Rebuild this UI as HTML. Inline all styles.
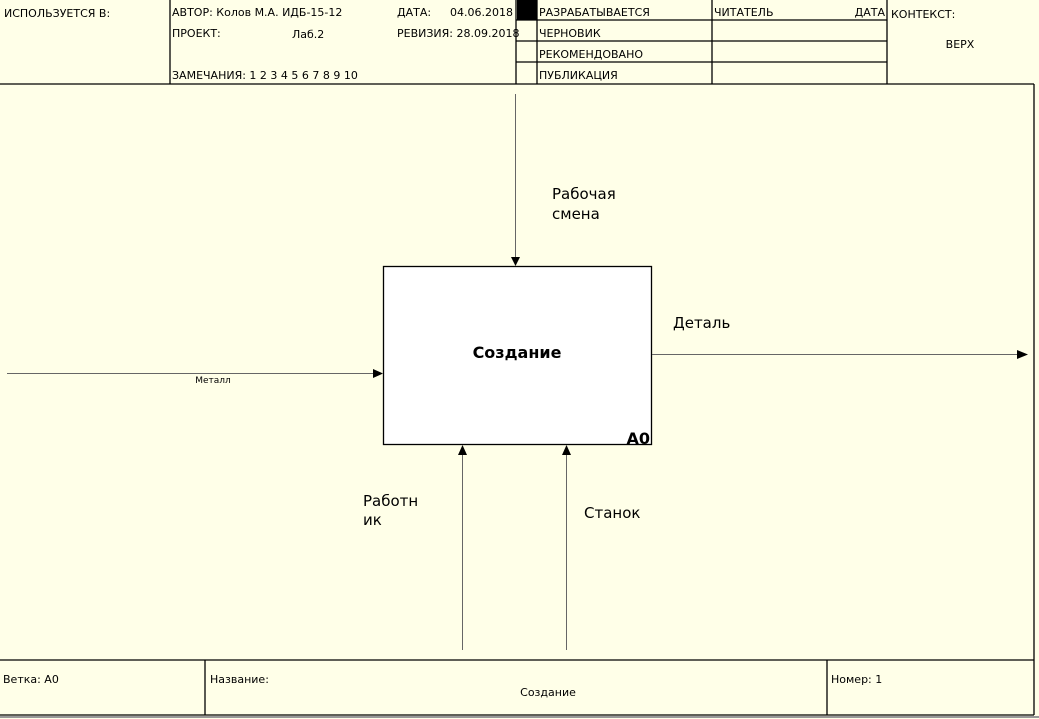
<!DOCTYPE html>
<html><head><meta charset="utf-8"><style>
html,body{margin:0;padding:0;background:#ffffe8;}
svg{display:block;}
text{font-family:"DejaVu Sans","Liberation Sans",sans-serif;fill:#000;}
</style></head><body>
<svg width="1039" height="719" viewBox="0 0 1039 719" xmlns="http://www.w3.org/2000/svg">
<rect x="0" y="0" width="1039" height="719" fill="#ffffe8"/>
<g stroke="#000" stroke-width="1.3" fill="none">
<line x1="0" y1="84" x2="1034" y2="84"/>
<line x1="170" y1="0" x2="170" y2="84"/>
<line x1="516" y1="0" x2="516" y2="84"/>
<line x1="537" y1="0" x2="537" y2="84"/>
<line x1="712" y1="0" x2="712" y2="84"/>
<line x1="887" y1="0" x2="887" y2="84"/>
<line x1="516" y1="20" x2="887" y2="20"/>
<line x1="516" y1="41" x2="887" y2="41"/>
<line x1="516" y1="62" x2="887" y2="62"/>
<line x1="1034" y1="84" x2="1034" y2="715"/>
<line x1="0" y1="660" x2="1034" y2="660"/>
<line x1="205" y1="660" x2="205" y2="715"/>
<line x1="827" y1="660" x2="827" y2="715"/>
<line x1="0" y1="715" x2="1034" y2="715"/>
</g>
<rect x="517" y="0" width="20" height="20" fill="#000"/>
<line x1="0" y1="717" x2="1039" y2="717" stroke="#999" stroke-width="2"/>
<g font-size="11">
<text x="4" y="17">ИСПОЛЬЗУЕТСЯ В:</text>
<text x="172" y="16">АВТОР: Колов М.А. ИДБ-15-12</text>
<text x="397" y="16">ДАТА:</text>
<text x="513" y="16" text-anchor="end">04.06.2018</text>
<text x="172" y="37">ПРОЕКТ:</text>
<text x="292" y="38">Лаб.2</text>
<text x="397" y="37">РЕВИЗИЯ: 28.09.2018</text>
<text x="172" y="79">ЗАМЕЧАНИЯ:  1  2  3  4  5  6  7  8  9  10</text>
<text x="539" y="16">РАЗРАБАТЫВАЕТСЯ</text>
<text x="539" y="37">ЧЕРНОВИК</text>
<text x="539" y="58">РЕКОМЕНДОВАНО</text>
<text x="539" y="79">ПУБЛИКАЦИЯ</text>
<text x="714" y="16">ЧИТАТЕЛЬ</text>
<text x="885" y="16" text-anchor="end">ДАТА</text>
<text x="891" y="18">КОНТЕКСТ:</text>
<text x="960" y="48" text-anchor="middle">ВЕРХ</text>
<text x="3" y="683">Ветка: A0</text>
<text x="210" y="683">Название:</text>
<text x="548" y="696" text-anchor="middle">Создание</text>
<text x="831" y="683">Номер: 1</text>
</g>
<rect x="383.5" y="266.5" width="268" height="178" fill="#fff" stroke="#000" stroke-width="1.3"/>
<text x="517" y="358" font-size="16" font-weight="bold" text-anchor="middle" font-family="Liberation Sans,sans-serif">Создание</text>
<text x="650" y="444" font-size="16" font-weight="bold" text-anchor="end" font-family="Liberation Sans,sans-serif">A0</text>
<g stroke="#666" stroke-width="1">
<line x1="515.5" y1="94" x2="515.5" y2="260"/>
<line x1="7" y1="373.5" x2="376" y2="373.5"/>
<line x1="652" y1="354.5" x2="1020" y2="354.5"/>
<line x1="462.5" y1="452" x2="462.5" y2="650"/>
<line x1="566.5" y1="452" x2="566.5" y2="650"/>
</g>
<g fill="#000">
<polygon points="511,257 520,257 515.5,266"/>
<polygon points="373,369 383,373.5 373,378"/>
<polygon points="1017,350 1028,354.5 1017,359"/>
<polygon points="458,455 467,455 462.5,445"/>
<polygon points="562,455 571,455 566.5,445"/>
</g>
<g font-size="15" font-family="Liberation Sans,sans-serif">
<text x="552" y="199">Рабочая</text>
<text x="552" y="219">смена</text>
<text x="673" y="328">Деталь</text>
<text x="363" y="506">Работн</text>
<text x="363" y="525">ик</text>
<text x="584" y="518">Станок</text>
</g>
<text x="213" y="383" font-size="9" text-anchor="middle">Металл</text>
</svg>
</body></html>
